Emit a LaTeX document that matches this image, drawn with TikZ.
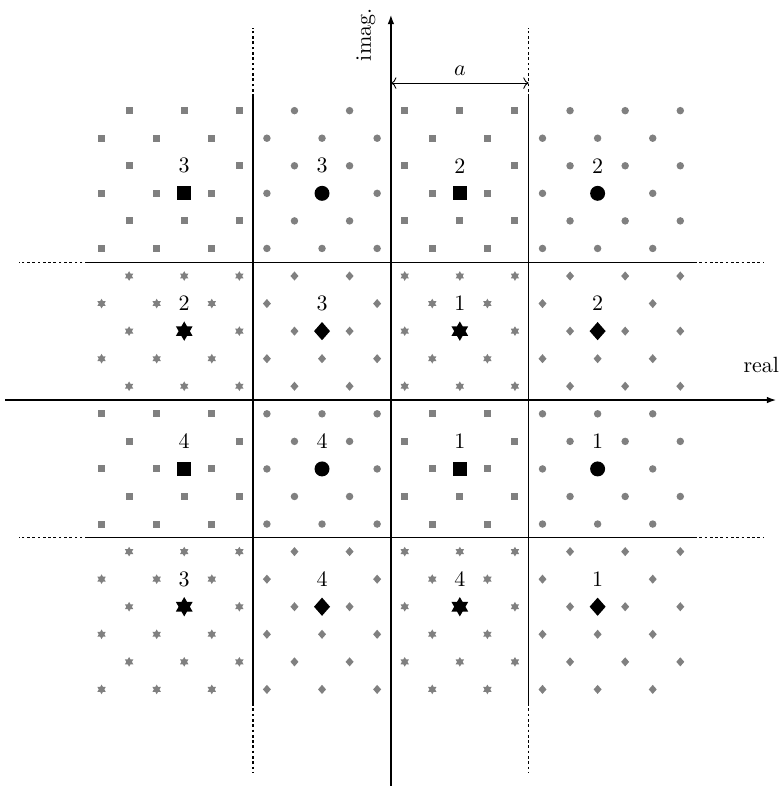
\documentclass[tikz,border=0pt]{standalone}
\usepackage{amsmath,amssymb}
\usepackage{tikz}
\usetikzlibrary{arrows.meta,shapes.geometric}
\usepackage{xcolor}

\begin{document}
\begin{tikzpicture}[x=0.22cm, y=0.22cm, >=Stealth,
    lat/.style={fill=gray, draw=none, inner sep=0pt},
    big/.style={fill=black, draw=none, inner sep=0pt, scale=2},
    sq/.style={rectangle, minimum size=3.2pt},
    dot/.style={circle, minimum size=3.4pt},
    dia/.style={diamond, minimum width=3.8pt, minimum height=4.3pt},
    hex/.style={star, star points=6, star point ratio=1.73, minimum size=4.4pt},
    cellline/.style={line width=0.6pt},
    ext/.style={line width=0.6pt, dash pattern=on 1.2pt off 1.2pt},
    axisline/.style={line width=1pt, -{Latex[length=4.5pt,width=3pt]}}]

    \useasboundingbox (-28.37,-28.01) rectangle (28.45,29.03);

    % cell borders
    \foreach \g in {-10,10} {
        \draw[cellline] (\g,-22) -- (\g,22);
        \draw[ext] (\g,22) -- (\g,27);
        \draw[ext] (\g,-22) -- (\g,-27);
        \draw[cellline] (-22,\g) -- (22,\g);
        \draw[ext] (22,\g) -- (27,\g);
        \draw[ext] (-22,\g) -- (-27,\g);
    }

    % blocks: centre / marker / label
    \foreach \cx/\cy/\mk/\lab [count=\i] in {
        -15/15/sq/3, -5/15/dot/3, 5/15/sq/2, 15/15/dot/2,
        -15/5/hex/2, -5/5/dia/3, 5/5/hex/1, 15/5/dia/2,
        -15/-5/sq/4, -5/-5/dot/4, 5/-5/sq/1, 15/-5/dot/1,
        -15/-15/hex/3, -5/-15/dia/4, 5/-15/hex/4, 15/-15/dia/1} {
        \pgfmathtruncatemacro\xlo{(\cx<-10) ? -21 : (\cx-4)}
        \pgfmathtruncatemacro\xhi{(\cx>10) ? 21 : (\cx+4)}
        \pgfmathtruncatemacro\ylo{(\cy<-10) ? -21 : (\cy-4)}
        \pgfmathtruncatemacro\yhi{(\cy>10) ? 21 : (\cy+4)}
        \pgfmathtruncatemacro\xnx{\xlo+2}
        \pgfmathtruncatemacro\ynx{\ylo+2}
        \foreach \x in {\xlo,\xnx,...,\xhi} {
            \foreach \y in {\ylo,\ynx,...,\yhi} {
                \pgfmathtruncatemacro\keep{(mod(\x+\y+100,4)==2)*(1-(\x==\cx)*((\y==\cy)+(\y==\cy+2)))}
                \ifnum\keep=1
                    \node[lat,\mk] (p\i-\x-\y) at (\x,\y) {};
                \fi
            }
        }
        \node[big,\mk] (c\i) at (\cx,\cy) {};
        \node (l\i) at (\cx,\cy+2) {\lab};
    }

    % axes
    \coordinate (xl) at (-28,0);
    \coordinate (xr) at (28,0);
    \coordinate (yb) at (0,-28);
    \coordinate (yt) at (0,28);
    \draw[axisline] (xl) -- (xr);
    \draw[axisline] (yb) -- (yt);
    \node[anchor=base east, inner sep=0pt] (re) at (28.2,2) {real};
    \node[rotate=90, anchor=base east, inner sep=0pt] (im) at (-1.45,28.45) {imag.};

    % spacing
    \coordinate (a0) at (0,23);
    \coordinate (a1) at (10,23);
    \draw[<->, >=To] (a0) -- node[above] (alab) {$a$} (a1);
\end{tikzpicture}
\end{document}
